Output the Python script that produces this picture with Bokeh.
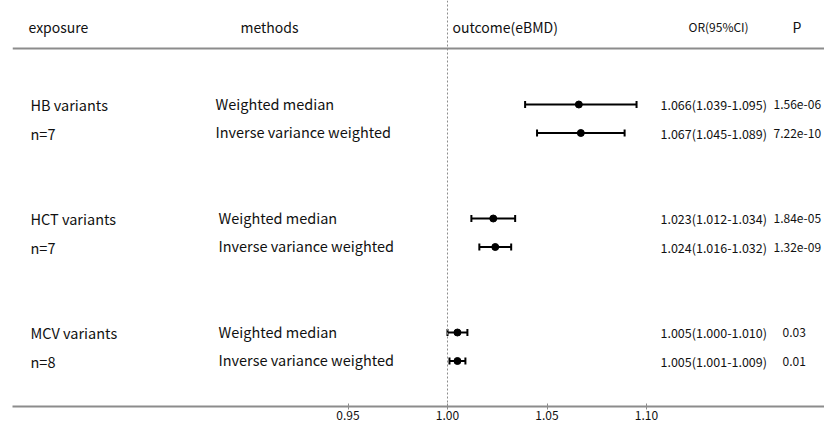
import math
from bokeh.plotting import figure
from bokeh.models import Range1d, Span, FixedTicker, ColumnDataSource
from bokeh.core.properties import value
from bokeh.embed import file_html
from bokeh.resources import INLINE

# ---------------- data ----------------
exposures = ["HB variants", "HCT variants", "MCV variants"]
n_snps = ["n=7", "n=7", "n=8"]
methods = ["Weighted median", "Inverse variance weighted"]
or_est = [1.066, 1.067, 1.023, 1.024, 1.005, 1.005]
ci_low = [1.039, 1.045, 1.012, 1.016, 1.000, 1.001]
ci_high = [1.095, 1.089, 1.034, 1.032, 1.010, 1.009]
p_vals = ["1.56e-06", "7.22e-10", "1.84e-05", "1.32e-09", "0.03", "0.01"]
or_text = ["1.066(1.039-1.095)", "1.067(1.045-1.089)", "1.023(1.012-1.034)",
           "1.024(1.016-1.032)", "1.005(1.000-1.010)", "1.005(1.001-1.009)"]
tick_values = [0.95, 1.00, 1.05, 1.10]
headers = ["exposure", "methods", "outcome(eBMD)", "OR(95%CI)", "P"]

# ---------------- layout helpers ----------------
PX_PER_UNIT = 1990.0   # pixels per OR unit
X_REF_PX = 447.0       # canvas pixel of OR = 1.00
ROW_PX = 28.5
ROW0_PX = 104.0


def px2x(px):
    return 1.0 + (px - X_REF_PX) / PX_PER_UNIT


def py2y(py):
    return (py - ROW0_PX) / ROW_PX


# row positions: two methods per exposure, with a gap between groups
rows = []
for g in range(len(exposures)):
    for k in range(len(methods)):
        rows.append(g * 4 + k)

FONT = "Noto Sans CJK SC"

W, H = 824, 422
AXIS_PX = 406
LEFT_PX = 12
p = figure(width=W, height=H, output_backend="svg", toolbar_location=None,
           x_range=Range1d(px2x(LEFT_PX), px2x(W)),
           y_range=Range1d(py2y(AXIS_PX), py2y(0)),
           min_border_left=LEFT_PX, min_border_right=0, min_border_top=0,
           min_border_bottom=H - AXIS_PX, y_axis_location=None,
           background_fill_color=None, border_fill_color="white")
p.outline_line_color = None
p.xgrid.visible = False
p.ygrid.visible = False

# axis
ax = p.xaxis[0]
ax.ticker = FixedTicker(ticks=tick_values)
ax.major_label_overrides = {t: f"{t:.2f}" for t in tick_values}
ax.axis_line_color = "#8c8c8c"
ax.axis_line_width = 2
ax.major_tick_line_color = "#8c8c8c"
ax.major_tick_in = 3
ax.major_tick_out = 3
ax.minor_tick_line_color = None
ax.major_label_text_font = FONT
ax.major_label_text_font_size = "12px"
ax.major_label_text_color = "#111111"
ax.major_label_standoff = 1

# reference line and header rule
p.add_layout(Span(location=1.0, dimension="height", line_color="#8c8c8c",
                  line_dash="2 2", line_width=1))
p.add_layout(Span(location=py2y(48), dimension="width", line_color="#8c8c8c",
                  line_width=2))

# CIs
src = ColumnDataSource(dict(y=rows, est=or_est, lo=ci_low, hi=ci_high))
p.segment(x0="lo", x1="hi", y0="y", y1="y", source=src, line_color="black", line_width=2)
p.scatter(x="lo", y="y", source=src, marker="dash", angle=math.pi / 2, size=7,
          line_color="black", line_width=2)
p.scatter(x="hi", y="y", source=src, marker="dash", angle=math.pi / 2, size=7,
          line_color="black", line_width=2)
p.scatter(x="est", y="y", source=src, marker="circle", size=7,
          fill_color="black", line_color="black")

txt_kw = dict(text_font=value(FONT), text_color="#111111", text_baseline="middle")

# headers
hdr_px = [28, 240, 452, 688, 792]
hdr_size = ["14px", "14px", "14px", "12px", "14px"]
for t, xp, fs in zip(headers, hdr_px, hdr_size):
    p.text(x=[px2x(xp)], y=[py2y(26)], text=[t], text_font_size=fs, **txt_kw)

# exposure labels
for g, (e, n) in enumerate(zip(exposures, n_snps)):
    p.text(x=[px2x(30)], y=[g * 4], text=[e], text_font_size="14.5px", **txt_kw)
    p.text(x=[px2x(30)], y=[g * 4 + 1], text=[n], text_font_size="14.5px", **txt_kw)

# method labels
meth_px = [215, 218, 218]
for i, yv in enumerate(rows):
    g = i // 2
    p.text(x=[px2x(meth_px[g])], y=[yv - 0.05], text=[methods[i % 2]],
           text_font_size="14.5px", **txt_kw)

# OR and P columns
p.text(x=[px2x(660)] * len(rows), y=rows, text=or_text, text_font_size="12.5px", **txt_kw)
p_px = [773, 773, 773, 773, 782, 782]
p.text(x=[px2x(v) for v in p_px], y=rows, text=p_vals, text_font_size="12px", **txt_kw)

open("out.html", "w").write(file_html(p, INLINE))
